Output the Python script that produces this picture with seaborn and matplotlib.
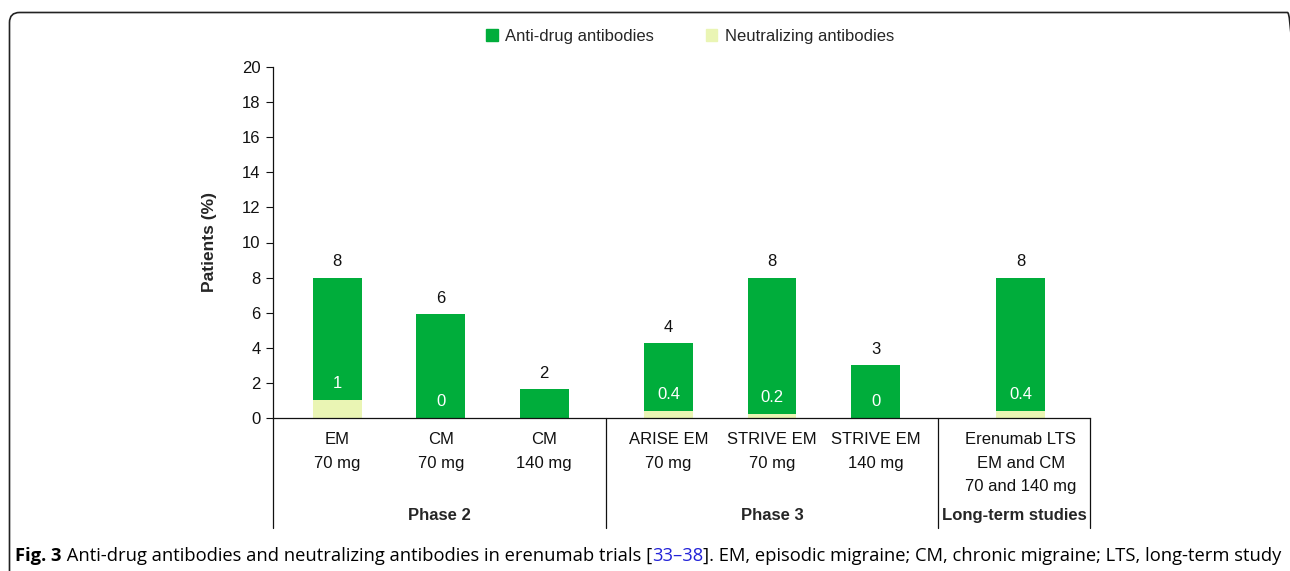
import numpy as np
import pandas as pd
import matplotlib
matplotlib.use('Agg')
import matplotlib.pyplot as plt
import seaborn as sns
from matplotlib.patches import Patch, FancyBboxPatch

# data
studies = ['EM\n70 mg', 'CM\n70 mg', 'CM\n140 mg', 'ARISE EM\n70 mg',
           'STRIVE EM\n70 mg', 'STRIVE EM\n140 mg',
           'Erenumab LTS\nEM and CM\n70 and 140 mg']
phases = ['Phase 2', 'Phase 3', 'Long-term studies']
ada = [8.0, 5.9, 1.65, 4.25, 8.0, 3.0, 8.0]
nab = [1.0, 0.0, 0.0, 0.4, 0.2, 0.0, 0.4]
ada_labels = ['8', '6', '2', '4', '8', '3', '8']
nab_labels = ['1', '0', '', '0.4', '0.2', '0', '0.4']

# layout
pos = [0, 1, 2, 3.2, 4.2, 5.2, 6.6]
seps = [-0.62, 2.6, 5.8, 7.27]
GREEN = '#00AD3B'
LIGHT = '#EAF5B4'
FS = 12

sns.set_style('ticks')
plt.rcParams['font.family'] = ['Liberation Sans', 'DejaVu Sans']

df = pd.DataFrame({'pos': pos, 'ada': ada, 'nab': nab})

fig = plt.figure(figsize=(12.9, 5.71), dpi=100)
ax = fig.add_axes([273/1290, 1-418/571, (1090-273)/1290, 351/571])

sns.barplot(data=df, x='pos', y='ada', native_scale=True, width=0.47,
            color=GREEN, saturation=1, linewidth=0, errorbar=None, ax=ax)
sns.barplot(data=df, x='pos', y='nab', native_scale=True, width=0.47,
            color=LIGHT, saturation=1, linewidth=0, errorbar=None, ax=ax)

for x, top, lab in zip(pos, ada, ada_labels):
    ax.text(x, top + 0.9, lab, ha='center', va='center', fontsize=FS, color='#111')
for x, n, lab in zip(pos, nab, nab_labels):
    ax.text(x, n + 0.95, lab, ha='center', va='center', fontsize=FS, color='white')

ax.set_xlim(seps[0], seps[-1])
ax.set_ylim(0, 20)
ax.set_yticks(np.arange(0, 21, 2))
ax.set_xticks(pos)
ax.set_xticklabels(studies, fontsize=FS, linespacing=1.72)
ax.tick_params(axis='x', length=0, pad=10, colors='#111')
ax.tick_params(axis='y', length=5, width=0.8, pad=4, labelsize=FS, colors='#111')
ax.set_xlabel('')
ax.set_ylabel('Patients (%)', fontsize=FS + 0.5, fontweight='bold', labelpad=18)
sns.despine(ax=ax)
for s in ['left', 'bottom']:
    ax.spines[s].set_linewidth(0.9)
    ax.spines[s].set_color('#111')

trans = ax.get_xaxis_transform()
for s in seps:
    ax.plot([s, s], [0, -0.313], transform=trans, color='#111', lw=0.9, clip_on=False)
for i, name in enumerate(phases):
    ax.text((seps[i] + seps[i+1]) / 2, -0.279, name, transform=trans, ha='center',
            va='center', fontsize=FS, fontweight='bold')

handles = [Patch(color=GREEN, label='Anti-drug antibodies'),
           Patch(color=LIGHT, label='Neutralizing antibodies')]
fig.legend(handles=handles, loc='center', bbox_to_anchor=(690/1290, 1-36/571), ncol=2,
           frameon=False, fontsize=FS, handlelength=0.7, handleheight=0.75,
           handletextpad=0.45, columnspacing=3.1)

# border
fig.patches.append(FancyBboxPatch((9.5, -40), 1288, 40 + 571 - 12.5,
                                  boxstyle='round,pad=0,rounding_size=10',
                                  transform=None, fill=False, lw=1.2, ec='#222'))

# caption
pieces = [('Fig. 3', 'bold', 'black'),
          (' Anti-drug antibodies and neutralizing antibodies in erenumab trials [', 'normal', 'black'),
          ('33\u201338', 'normal', '#2323d8'),
          ('. EM, episodic migraine; CM, chronic migraine; LTS, long-term study', 'normal', 'black')]
pieces[3] = (']' + pieces[3][0], 'normal', 'black')
fig.canvas.draw()
r = fig.canvas.get_renderer()
xpix = 15
for txt, w, c in pieces:
    t = fig.text(xpix / 1290, 1 - 556/571, txt, fontsize=13.2, fontweight=w, color=c,
                 va='center', ha='left', family=['Open Sans', 'DejaVu Sans'])
    xpix += t.get_window_extent(renderer=r).width

fig.savefig('out.png', dpi=100)
